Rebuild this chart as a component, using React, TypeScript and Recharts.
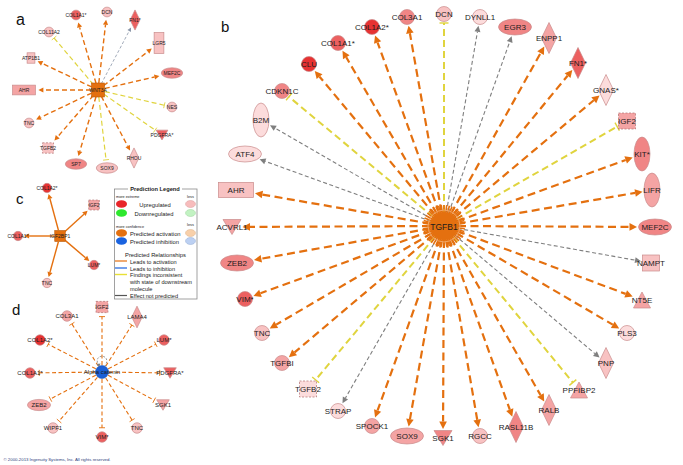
import React from 'react';
import { ScatterChart, Scatter, XAxis, YAxis, ReferenceLine, Customized } from 'recharts';

const W = 683;
const H = 465;
const FONT = "'Liberation Sans', Arial, Helvetica, sans-serif";

// ---------------- DATA ----------------
// Panel b : TGFB1 network
const bHub = { name: 'TGFB1', x: 444, y: 226 };
const bNames = ['COL1A2*', 'COL3A1', 'DCN', 'DYNLL1', 'EGR3', 'ENPP1', 'FN1*', 'GNAS*', 'IGF2', 'KIT*', 'LIFR', 'MEF2C', 'NAMPT', 'NT5E', 'PLS3', 'PNP', 'PPFIBP2', 'RALB', 'RASL11B', 'RGCC', 'SGK1', 'SOX9', 'SPOCK1', 'STRAP', 'TGFB2', 'TGFBI', 'TNC', 'VIM*', 'ZEB2', 'ACVRL1', 'AHR', 'ATF4', 'B2M', 'CDKN1C', 'CLU', 'COL1A1*'];
const bX = [372, 407, 444, 480, 515, 549, 578, 606, 627, 642, 652, 655, 651, 642, 627, 606, 579, 549, 516, 480, 443, 407, 372, 338, 308, 282, 262, 245, 237, 232, 236, 245, 261, 282, 309, 338];
const bY = [27, 17, 14, 17, 27, 38, 63, 90, 121, 154, 190, 227, 263, 300, 333, 363, 390, 410, 427, 436, 438, 436, 426, 411, 389, 363, 333, 299, 263, 227, 190, 154, 120, 91, 64, 43];
const bTypes = ['other', 'other', 'other', 'other', 'tr', 'enz', 'enz', 'enz', 'gf', 'rec', 'rec', 'tr', 'cyt', 'pho', 'other', 'enz', 'pho', 'enz', 'enz', 'other', 'kin', 'tr', 'other', 'other', 'gf', 'other', 'other', 'other', 'tr', 'kin', 'nr', 'tr', 'rec', 'other', 'other', 'other'];
const bLevels = [6, 4, 2, 1, 4, 3, 5, 1, 3, 4, 3, 4, 2, 3, 1, 2, 3, 3, 4, 2, 4, 3, 3, 1, 1, 3, 2, 5, 4, 3, 2, 1, 1, 4, 6, 5];
const bEdges = ['A', 'A', 'I', 'N', 'N', 'A', 'A', 'A', 'I', 'A', 'A', 'A', 'N', 'A', 'A', 'N', 'I', 'A', 'A', 'A', 'A', 'A', 'A', 'N', 'I', 'A', 'A', 'A', 'A', 'A', 'A', 'N', 'N', 'I', 'A', 'A'];

// Panel a : WNT3A network
const aHub = { name: 'WNT3A', x: 98, y: 90 };
const aNames = ['COL1A1*', 'DCN', 'FN1*', 'LGR5', 'MEF2C', 'NES', 'PDGFRA*', 'RHOU', 'SOX9', 'SP7', 'TGFB2', 'TNC', 'AHR', 'ATP1B1', 'COL11A2'];
const aX = [76, 107, 135, 159, 172, 172, 162, 134, 107, 76, 48, 29, 24, 31, 49];
const aY = [15, 12, 20, 43, 73, 107, 135, 158, 168, 164, 148, 123, 90, 58, 32];
const aTypes = ['other', 'other', 'enz', 'gpcr', 'tr', 'other', 'kin', 'enz', 'tr', 'tr', 'gf', 'other', 'nr', 'tp', 'other'];
const aLevels = [5, 2, 5, 2, 4, 2, 5, 2, 2, 4, 2, 2, 3, 2, 2];
const aEdges = ['A', 'A', 'N', 'A', 'A', 'I', 'I', 'A', 'I', 'A', 'A', 'A', 'A', 'A', 'I'];

// Panel c : IGF2BP1 network
const cHub = { name: 'IGF2BP1', x: 60, y: 236 };
const cNames = ['COL1A2*', 'IGF2', 'LUM*', 'TNC', 'COL1A1*'];
const cX = [47, 94, 94, 47, 18];
const cY = [188, 205, 265, 283, 236];
const cTypes = ['other', 'gf', 'other', 'other', 'other'];
const cLevels = [6, 3, 5, 2, 5];
const cEdges = ['S', 'S', 'S', 'S', 'S'];

// Panel d : Alpha catenin network
const dHub = { name: 'Alpha catenin', x: 102, y: 372 };
const dNames = ['IGF2', 'LAMA4', 'LUM*', 'PDGFRA*', 'SGK1', 'TNC', 'VIM*', 'WIPF1', 'ZEB2', 'COL1A1*', 'COL1A2*', 'COL3A1'];
const dX = [102, 137, 164, 170, 163, 137, 102, 53, 39, 30, 40, 67];
const dY = [307, 317, 340, 373, 405, 428, 437, 428, 405, 373, 340, 316];
const dTypes = ['gf', 'enz', 'other', 'kin', 'kin', 'other', 'other', 'other', 'tr', 'other', 'other', 'other'];
const dLevels = [3, 3, 5, 5, 3, 2, 5, 2, 3, 5, 6, 3];
const dEdges = ['T', 'T', 'T', 'T', 'T', 'T', 'T', 'T', 'T', 'T', 'T', 'T'];

// ---------------- STYLE ----------------
const levelColors = ['#ffffff', '#fcdcdc', '#f8c2c2', '#f4a4a4', '#f08585', '#ec6060', '#e63232'];
const ORANGE = '#e4700f';
const YELLOW = '#e0d43e';
const GRAY = '#7f7f7f';

type Node = { name: string; x: number; y: number; type: string; level: number; edge: string };

function build(names: string[], xs: number[], ys: number[], types: string[], levels: number[], edges: string[]): Node[] {
  return names.map((n, i) => ({ name: n, x: xs[i], y: ys[i], type: types[i], level: levels[i], edge: edges[i] }));
}

type EdgeStyle = { c: string; w: number; d?: string; head: 'arrow' | 'bar'; hl: number; hw: number };

const panels = [
  {
    id: 'b', hub: bHub, nodes: build(bNames, bX, bY, bTypes, bLevels, bEdges), scale: 1, font: 8,
    startGap: 14, endGap: 1.5,
    styles: {
      A: { c: ORANGE, w: 2.2, d: '8 4.5', head: 'arrow', hl: 7.5, hw: 3.8 },
      N: { c: GRAY, w: 1.1, d: '4 2.5', head: 'arrow', hl: 6, hw: 3 },
      I: { c: YELLOW, w: 2, d: '7 4', head: 'bar', hl: 0, hw: 4.5 },
    } as Record<string, EdgeStyle>,
  },
  {
    id: 'a', hub: aHub, nodes: build(aNames, aX, aY, aTypes, aLevels, aEdges), scale: 0.65, font: 5,
    startGap: 7, endGap: 3,
    styles: {
      A: { c: ORANGE, w: 1.4, d: '5 3', head: 'arrow', hl: 5, hw: 2.6 },
      N: { c: '#8a96a8', w: 0.8, d: '3 2', head: 'arrow', hl: 4, hw: 2 },
      I: { c: YELLOW, w: 1.2, d: '5 3', head: 'bar', hl: 0, hw: 3 },
    } as Record<string, EdgeStyle>,
  },
  {
    id: 'c', hub: cHub, nodes: build(cNames, cX, cY, cTypes, cLevels, cEdges), scale: 0.62, font: 5,
    startGap: 6, endGap: 1.5,
    styles: {
      S: { c: ORANGE, w: 1.4, head: 'arrow', hl: 5, hw: 2.6 },
    } as Record<string, EdgeStyle>,
  },
  {
    id: 'd', hub: dHub, nodes: build(dNames, dX, dY, dTypes, dLevels, dEdges), scale: 0.7, font: 6,
    startGap: 7, endGap: 4,
    styles: {
      T: { c: ORANGE, w: 1.1, d: '4 2.5', head: 'bar', hl: 0, hw: 3 },
    } as Record<string, EdgeStyle>,
  },
];

function dims(type: string, s: number) {
  switch (type) {
    case 'other': return { hw: 7.5 * s, hh: 7.5 * s, k: 'ell' };
    case 'tr': return { hw: 16.5 * s, hh: 8 * s, k: 'ell' };
    case 'rec': return { hw: 8 * s, hh: 17 * s, k: 'ell' };
    case 'enz': return { hw: 7.5 * s, hh: 15.5 * s, k: 'dia' };
    case 'kin': return { hw: 9 * s, hh: 7.5 * s, k: 'ell' };
    case 'pho': return { hw: 8.5 * s, hh: 8 * s, k: 'ell' };
    case 'nr': return { hw: 17.5 * s, hh: 7.5 * s, k: 'rect' };
    case 'gpcr': return { hw: 7.5 * s, hh: 16 * s, k: 'rect' };
    case 'tp': return { hw: 6 * s, hh: 8 * s, k: 'rect' };
    default: return { hw: 8.5 * s, hh: 8 * s, k: 'rect' };
  }
}

function boundary(type: string, s: number, ux: number, uy: number) {
  const d = dims(type, s);
  const ax = Math.abs(ux), ay = Math.abs(uy);
  if (d.k === 'ell') return 1 / Math.sqrt((ax / d.hw) ** 2 + (ay / d.hh) ** 2);
  if (d.k === 'dia') return 1 / (ax / d.hw + ay / d.hh);
  return Math.min(ax > 1e-6 ? d.hw / ax : 1e9, ay > 1e-6 ? d.hh / ay : 1e9);
}

const makeEdge = (st: EdgeStyle, type: string, scale: number, startGap: number, endGap: number) => (p: any) => {
  const x1 = +p.x1, y1 = +p.y1, x2 = +p.x2, y2 = +p.y2;
  const dx = x2 - x1, dy = y2 - y1;
  const L = Math.hypot(dx, dy) || 1;
  const ux = dx / L, uy = dy / L;
  const bd = boundary(type, scale, ux, uy) + endGap;
  const tx = x2 - ux * bd, ty = y2 - uy * bd;
  const sx = x1 + ux * startGap, sy = y1 + uy * startGap;
  const px = -uy, py = ux;
  if (st.head === 'arrow') {
    const bx = tx - ux * st.hl, by = ty - uy * st.hl;
    return (
      <g>
        <line x1={sx} y1={sy} x2={bx} y2={by} stroke={st.c} strokeWidth={st.w} strokeDasharray={st.d} />
        <polygon points={`${tx},${ty} ${bx + px * st.hw},${by + py * st.hw} ${bx - px * st.hw},${by - py * st.hw}`} fill={st.c} />
      </g>
    );
  }
  return (
    <g>
      <line x1={sx} y1={sy} x2={tx} y2={ty} stroke={st.c} strokeWidth={st.w} strokeDasharray={st.d} />
      <line x1={tx + px * st.hw} y1={ty + py * st.hw} x2={tx - px * st.hw} y2={ty - py * st.hw} stroke={st.c} strokeWidth={Math.max(0.9, st.w * 0.7)} />
    </g>
  );
};

const makeNodeShape = (scale: number, font: number) => (p: any) => {
  const { cx, cy, payload } = p;
  if (cx == null || cy == null) return <g />;
  const fill = levelColors[payload.level];
  const stroke = '#c98b8b';
  const sw = 0.7;
  const d = dims(payload.type, scale);
  let el: React.ReactNode;
  switch (payload.type) {
    case 'other':
    case 'tr':
    case 'rec':
      el = <ellipse cx={cx} cy={cy} rx={d.hw} ry={d.hh} fill={fill} stroke={stroke} strokeWidth={sw} />;
      break;
    case 'enz':
      el = <polygon points={`${cx},${cy - d.hh} ${cx + d.hw},${cy} ${cx},${cy + d.hh} ${cx - d.hw},${cy}`} fill={fill} stroke={stroke} strokeWidth={sw} />;
      break;
    case 'kin':
      el = <polygon points={`${cx - d.hw},${cy - d.hh} ${cx + d.hw},${cy - d.hh} ${cx},${cy + d.hh}`} fill={fill} stroke={stroke} strokeWidth={sw} />;
      break;
    case 'pho':
      el = <polygon points={`${cx},${cy - d.hh} ${cx + d.hw},${cy + d.hh} ${cx - d.hw},${cy + d.hh}`} fill={fill} stroke={stroke} strokeWidth={sw} />;
      break;
    case 'gf':
      el = <rect x={cx - d.hw} y={cy - d.hh} width={d.hw * 2} height={d.hh * 2} fill={fill} stroke="#b07070" strokeWidth={sw} strokeDasharray="2 1.5" />;
      break;
    default:
      el = <rect x={cx - d.hw} y={cy - d.hh} width={d.hw * 2} height={d.hh * 2} fill={fill} stroke={stroke} strokeWidth={sw} />;
  }
  return (
    <g>
      {el}
      <text x={cx} y={cy} textAnchor="middle" dominantBaseline="central" fontSize={font} fontFamily={FONT} fill="#1c1c1c">
        {payload.name}
      </text>
    </g>
  );
};

const hubs = [
  { ...bHub, kind: 'burst' },
  { ...aHub, kind: 'sqA' },
  { ...cHub, kind: 'sqC' },
  { ...dHub, kind: 'blue' },
];

const hubShape = (p: any) => {
  const { cx, cy, payload } = p;
  if (cx == null || cy == null) return <g />;
  if (payload.kind === 'burst') {
    const spikes = [];
    for (let i = 0; i < 48; i++) {
      const a = (i / 48) * Math.PI * 2;
      spikes.push(
        <line key={i} x1={cx + Math.cos(a) * 9} y1={cy + Math.sin(a) * 9} x2={cx + Math.cos(a) * 21} y2={cy + Math.sin(a) * 21} stroke={ORANGE} strokeWidth={1.6} />
      );
    }
    return (
      <g>
        {spikes}
        <circle cx={cx} cy={cy} r={14} fill={ORANGE} />
        <circle cx={cx} cy={cy} r={16} fill="none" stroke="#f2b27a" strokeWidth={0.8} />
        <text x={cx} y={cy + 1} textAnchor="middle" dominantBaseline="central" fontSize={8.5} fontFamily={FONT} fill="#1c1c1c">{payload.name}</text>
      </g>
    );
  }
  if (payload.kind === 'sqA' || payload.kind === 'sqC') {
    const w = payload.kind === 'sqA' ? 13 : 10.5;
    const h = payload.kind === 'sqA' ? 14 : 11;
    return (
      <g>
        <rect x={cx - w / 2} y={cy - h / 2} width={w} height={h} fill={ORANGE} stroke="#b85a0a" strokeWidth={0.6} />
        <text x={cx} y={cy} textAnchor="middle" dominantBaseline="central" fontSize={5} fontFamily={FONT} fill="#1c1c1c">{payload.name}</text>
      </g>
    );
  }
  return (
    <g>
      <path d={`M ${cx - 3} ${cy - 6} C ${cx - 11} ${cy - 19}, ${cx + 11} ${cy - 19}, ${cx + 3} ${cy - 6}`} fill="none" stroke={GRAY} strokeWidth={0.8} strokeDasharray="2 1.5" />
      <polygon points={`${cx - 3},${cy - 5} ${cx - 5.5},${cy - 8} ${cx - 1.5},${cy - 8.5}`} fill={GRAY} />
      <circle cx={cx} cy={cy} r={6.5} fill="#1a5fd6" stroke="#0f47a8" strokeWidth={0.5} />
      <text x={cx} y={cy} textAnchor="middle" dominantBaseline="central" fontSize={6} fontFamily={FONT} fill="#1c1c1c">{payload.name}</text>
    </g>
  );
};

const LegendBox = () => {
  const t = { fontFamily: FONT, fill: '#222' } as const;
  return (
    <g>
      <rect x={114.5} y={189} width={82.5} height={110} fill="#fff" stroke="#8a8a8a" strokeWidth={0.8} />
      <rect x={128} y={185} width={54} height={8} fill="#fff" />
      <text x={155} y={189} textAnchor="middle" dominantBaseline="central" fontSize={5.7} fontWeight="bold" {...t}>Prediction Legend</text>
      <text x={116} y={197} dominantBaseline="central" fontSize={3.8} {...t}>more extreme</text>
      <text x={190.5} y={197} textAnchor="middle" dominantBaseline="central" fontSize={3.8} {...t}>less</text>
      <ellipse cx={121.5} cy={204} rx={5.5} ry={3.8} fill="#e8262a" />
      <text x={155} y={204.5} textAnchor="middle" dominantBaseline="central" fontSize={5.8} {...t}>Upregulated</text>
      <ellipse cx={190.5} cy={204} rx={5} ry={3.5} fill="#f7bcbc" stroke="#d89a9a" strokeWidth={0.5} />
      <ellipse cx={121.5} cy={213} rx={5.5} ry={3.8} fill="#2ee82e" />
      <text x={154} y={213.5} textAnchor="middle" dominantBaseline="central" fontSize={5.8} {...t}>Downregulated</text>
      <ellipse cx={190.5} cy={213} rx={5} ry={3.5} fill="#c2f2c2" stroke="#9ad09a" strokeWidth={0.5} />
      <text x={116} y={226.5} dominantBaseline="central" fontSize={3.8} {...t}>more confidence</text>
      <text x={190.5} y={225} textAnchor="middle" dominantBaseline="central" fontSize={3.8} {...t}>less</text>
      <ellipse cx={121.5} cy={233} rx={5.5} ry={3.8} fill={ORANGE} />
      <text x={130} y={233.5} dominantBaseline="central" fontSize={5.8} {...t}>Predicted activation</text>
      <ellipse cx={190.5} cy={233} rx={5} ry={3.5} fill="#f8d0aa" stroke="#d8ae88" strokeWidth={0.5} />
      <ellipse cx={121.5} cy={241} rx={5.5} ry={3.8} fill="#1a63e0" />
      <text x={130} y={241.5} dominantBaseline="central" fontSize={5.8} {...t}>Predicted inhibition</text>
      <ellipse cx={190.5} cy={241} rx={5} ry={3.5} fill="#bcd0f2" stroke="#90a8d0" strokeWidth={0.5} />
      <text x={155.5} y={255} textAnchor="middle" dominantBaseline="central" fontSize={5.8} {...t}>Predicted Relationships</text>
      <line x1={115} y1={261} x2={127} y2={261} stroke={ORANGE} strokeWidth={1.2} />
      <text x={130} y={261.5} dominantBaseline="central" fontSize={5.6} {...t}>Leads to activation</text>
      <line x1={115} y1={268} x2={127} y2={268} stroke="#1a63e0" strokeWidth={1.2} />
      <text x={130} y={268.5} dominantBaseline="central" fontSize={5.6} {...t}>Leads to inhibition</text>
      <line x1={115} y1={274.5} x2={127} y2={274.5} stroke="#e8e036" strokeWidth={1.4} />
      <text x={130} y={275} dominantBaseline="central" fontSize={5.6} {...t}>Findings inconsistent</text>
      <text x={130} y={282} dominantBaseline="central" fontSize={5.6} {...t}>with state of downstream</text>
      <text x={130} y={288.5} dominantBaseline="central" fontSize={5.6} {...t}>molecule</text>
      <line x1={115} y1={295.5} x2={127} y2={295.5} stroke="#555" strokeWidth={1.2} />
      <text x={130} y={296} dominantBaseline="central" fontSize={5.6} {...t}>Effect not predicted</text>
    </g>
  );
};

const Decor = () => (
  <g>
    <text x={16} y={25} fontSize={16} fontFamily={FONT} fill="#111">a</text>
    <text x={221} y={32} fontSize={15} fontFamily={FONT} fill="#111">b</text>
    <text x={16} y={204} fontSize={15} fontFamily={FONT} fill="#111">c</text>
    <text x={12} y={315} fontSize={15} fontFamily={FONT} fill="#111">d</text>
    <LegendBox />
    <text x={3.5} y={461} fontSize={4.3} fontFamily={FONT} fill="#2e3d7c">© 2000-2013 Ingenuity Systems, Inc. All rights reserved.</text>
  </g>
);

export default function App() {
  return (
    <div style={{ position: 'absolute', left: 0, top: 0, width: W, height: H, background: '#fff' }}>
      <ScatterChart width={W} height={H} margin={{ top: 0, right: 0, bottom: 0, left: 0 }}>
        <XAxis type="number" dataKey="x" domain={[0, W]} hide allowDataOverflow />
        <YAxis type="number" dataKey="y" domain={[0, H]} reversed hide allowDataOverflow />
        {panels.flatMap((pn) =>
          pn.nodes.map((n, i) => (
            <ReferenceLine
              key={`${pn.id}-e-${i}`}
              segment={[{ x: pn.hub.x, y: pn.hub.y }, { x: n.x, y: n.y }]}
              ifOverflow="visible"
              shape={makeEdge(pn.styles[n.edge], n.type, pn.scale, pn.startGap, pn.endGap)}
            />
          ))
        )}
        {panels.map((pn) => (
          <Scatter key={`${pn.id}-nodes`} data={pn.nodes} shape={makeNodeShape(pn.scale, pn.font)} isAnimationActive={false} />
        ))}
        <Scatter data={hubs} shape={hubShape} isAnimationActive={false} />
        <Customized component={Decor} />
      </ScatterChart>
    </div>
  );
}
